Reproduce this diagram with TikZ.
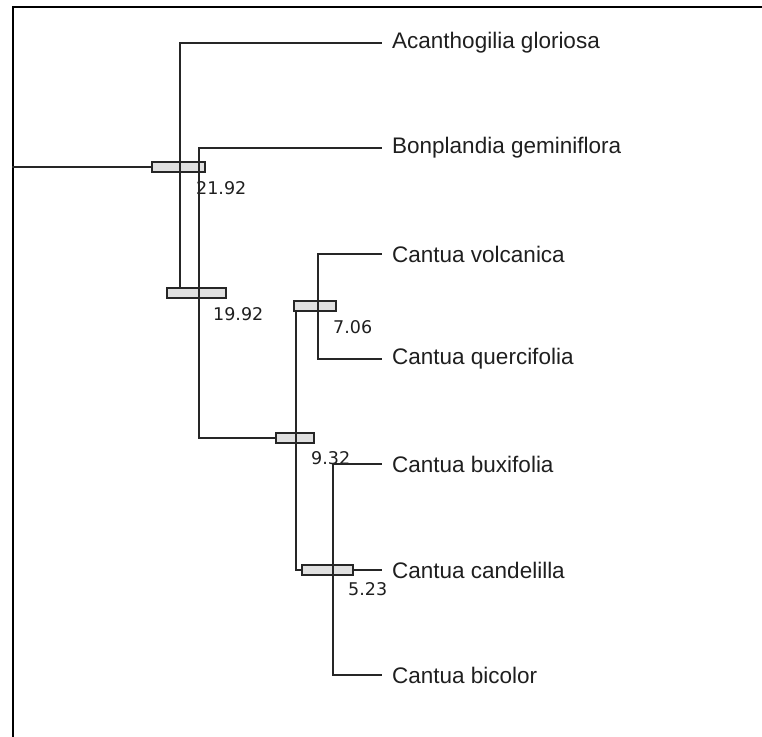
\documentclass[tikz,border=0pt]{standalone}
\usepackage{fontspec}
\setmainfont{Liberation Sans}
\newfontfamily\numfont{DejaVu Sans}
\usepackage{tikz}

\begin{document}
\begin{tikzpicture}
		[x=1pt,y=-1pt,line cap=rect,
		%Styles
		frame/.style={line width=2pt,black},
		branch/.style={line width=1.4pt,linecolor},
		bar/.style={draw=linecolor,line width=1.3pt,fill=barcolor,inner sep=0pt,minimum height=10pt,minimum width=#1},
		leaf/.style={anchor=west,inner xsep=11pt,inner ysep=0pt,text=textcolor,font=\fontsize{22.5}{27}\selectfont},
		age/.style={anchor=west,inner sep=0pt,text=textcolor,font=\numfont\fontsize{17.5}{21}\selectfont}
		]
		
		%Colors
		\colorlet{linecolor}{black!85}	%branches
		\colorlet{barcolor}{black!12}	%age bars
		\colorlet{textcolor}{black!88}
		
		\useasboundingbox (0,0) rectangle (762,736);
		\fill[white] (0,0) rectangle (762,736);
		\draw[frame] (762,6.5) -- (12.5,6.5) -- (12.5,736);
		
		%Age bars
		\node[bar=53pt] (n1) at (178.5,167) {};
		\node[bar=59pt] (n2) at (196.5,293) {};
		\node[bar=38pt] (n3) at (295,438) {};
		\node[bar=42pt] (n4) at (315,306) {};
		\node[bar=51pt] (n5) at (327.5,570) {};
		
		%Ages
		\node[age] (a1) at (196,188) {21.92};
		\node[age] (a2) at (213,314) {19.92};
		\node[age] (a3) at (311,458) {9.32};
		\node[age] (a4) at (333,327) {7.06};
		\node[age] (a5) at (348,589) {5.23};
		
		%Taxa
		\node[leaf] (acan) at (381,43) {Acanthogilia gloriosa};
		\node[leaf] (bonp) at (381,148) {Bonplandia geminiflora};
		\node[leaf] (volc) at (381,254) {Cantua volcanica};
		\node[leaf] (quer) at (381,359) {Cantua quercifolia};
		\node[leaf] (buxi) at (381,464) {Cantua buxifolia};
		\node[leaf] (cand) at (381,570) {Cantua candelilla};
		\node[leaf] (bico) at (381,675) {Cantua bicolor};
		
		%Joints
		\coordinate (root) at (12.5,167);
		\coordinate (j1) at (180,288);
		\coordinate (j2) at (199,438);
		\coordinate (j3) at (318,306);
		\coordinate (j4) at (296,570);
		\coordinate (j5) at (333,570);
		
		%The graphic
		\draw[branch] (root) -- (n1.west);
		\draw[branch] (acan.west) -| (j1);
		\draw[branch] (bonp.west) -| (j2) -- (n3.west);
		\draw[branch] (volc.west) -| (j3) |- (quer.west);
		\draw[branch] (j4 |- n4.south) -- (j4) -- (n5.west);
		\draw[branch] (buxi.west) -| (j5) |- (bico.west);
		\draw[branch] (n5.east) -- (cand.west);
	\end{tikzpicture}
\end{document}
